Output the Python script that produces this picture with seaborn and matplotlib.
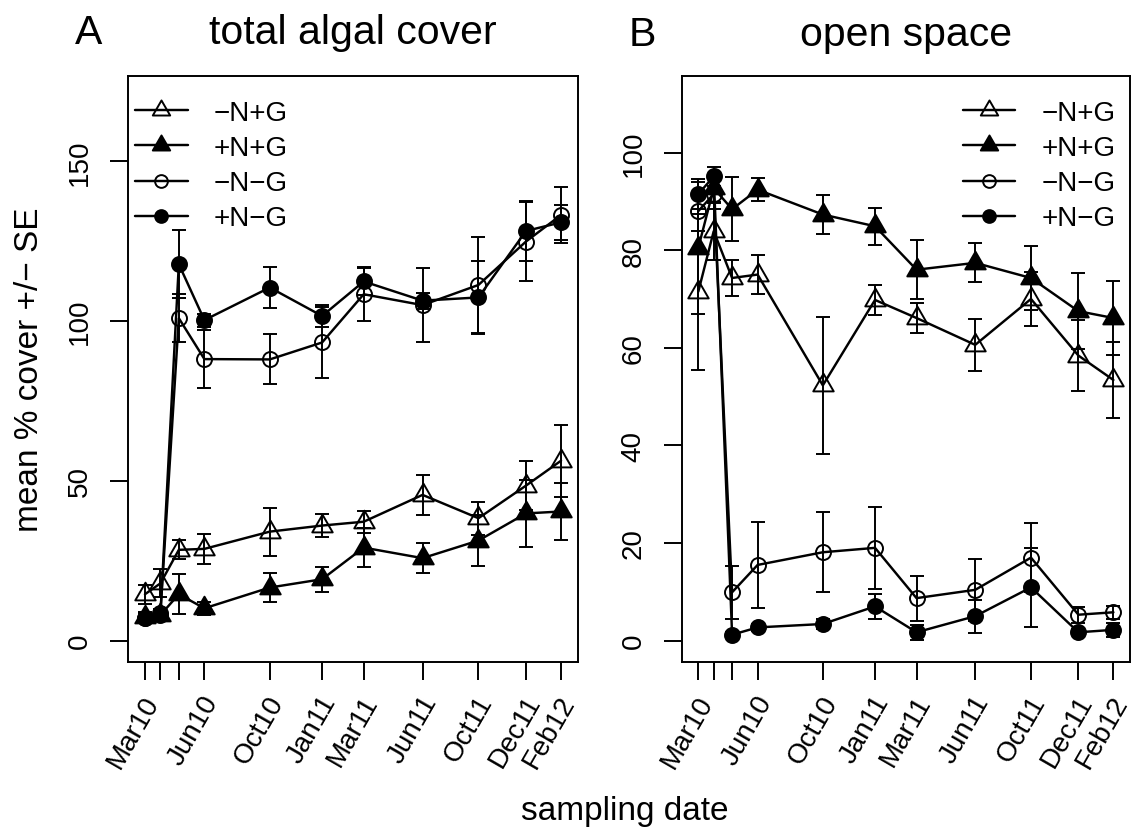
import numpy as np
import pandas as pd
import matplotlib
matplotlib.use("Agg")
import matplotlib.pyplot as plt
import matplotlib.transforms as mtransforms
from matplotlib.path import Path
import seaborn as sns

# ---------------- data ----------------
sample_day = [0, 26, 57, 100, 210, 298, 368, 467, 561, 641, 700]
tick_labels = ["Mar10", "", "", "Jun10", "Oct10", "Jan11", "Mar11", "Jun11", "Oct11", "Dec11", "Feb12"]
treatments = ["\u2212N+G", "+N+G", "\u2212N\u2212G", "+N\u2212G"]

# panel A: total algal cover (mean, SE)
algae_mNpG = [14.5, 17.9, 28.4, 28.7, 34.1, 36.0, 37.2, 45.6, 38.3, 48.5, 56.3]
algae_mNpG_se = [3.0, 4.4, 3.0, 4.6, 7.5, 3.5, 3.4, 6.3, 5.2, 7.7, 11.3]
algae_pNpG = [7.5, 8.0, 14.5, 10.1, 16.6, 19.2, 29.1, 25.8, 31.3, 39.8, 40.4]
algae_pNpG_se = [1.5, 1.5, 6.2, 2.0, 4.6, 3.9, 6.0, 4.6, 8.0, 10.5, 9.0]
algae_mNmG = [7.0, 8.5, 100.9, 88.1, 88.0, 93.3, 108.4, 105.0, 111.3, 124.9, 133.2]
algae_mNmG_se = [1.5, 1.5, 7.5, 9.0, 7.8, 11.0, 8.5, 11.5, 15.0, 12.5, 8.8]
algae_pNmG = [7.0, 8.0, 117.8, 100.3, 110.5, 101.6, 112.4, 106.4, 107.4, 128.2, 130.9]
algae_pNmG_se = [1.5, 1.5, 10.7, 2.0, 6.3, 3.3, 4.2, 2.5, 11.3, 9.5, 5.5]

# panel B: open space (mean, SE)
open_mNpG = [71.5, 83.9, 74.3, 75.0, 52.3, 69.8, 66.1, 60.6, 70.0, 58.4, 53.4]
open_mNpG_se = [16.0, 6.0, 3.7, 4.0, 14.0, 3.1, 3.0, 5.3, 5.5, 7.3, 7.7]
open_pNpG = [80.5, 92.7, 88.4, 92.4, 87.3, 84.9, 76.0, 77.4, 74.3, 67.5, 66.1]
open_pNpG_se = [13.5, 3.0, 6.5, 2.4, 4.0, 3.8, 6.1, 4.0, 6.5, 7.8, 7.6]
open_mNmG = [88.0, 91.5, 9.9, 15.5, 18.1, 19.0, 8.7, 10.4, 17.0, 5.3, 5.8]
open_mNmG_se = [4.0, 3.0, 5.4, 8.8, 8.2, 8.4, 4.6, 6.3, 7.0, 1.6, 1.3]
open_pNmG = [91.5, 95.1, 1.2, 2.7, 3.4, 7.0, 1.7, 5.0, 10.9, 1.7, 2.2]
open_pNmG_se = [3.0, 2.0, 0.5, 0.8, 1.0, 2.6, 1.5, 3.4, 8.1, 0.6, 1.5]

# ---------------- style ----------------
sns.set_style("ticks")
plt.rcParams["font.family"] = ["Liberation Sans", "DejaVu Sans"]
plt.rcParams["axes.unicode_minus"] = True
for k in ["text.color", "axes.labelcolor", "xtick.color", "ytick.color", "axes.edgecolor"]:
    plt.rcParams[k] = "black"

W, H = 1133, 837
fig = plt.figure(figsize=(W / 100, H / 100), dpi=100)

def px_axes(x0, y0, x1, y1):
    return fig.add_axes([x0 / W, 1 - y1 / H, (x1 - x0) / W, (y1 - y0) / H])

axA = px_axes(128.3, 76.7, 577.7, 663.3)
axB = px_axes(681.7, 76.7, 1130.0, 663.3)

tri = Path([(0, 1), (0.866, -0.5), (-0.866, -0.5), (0, 1)], closed=True)
styles = [
    dict(marker=tri, ms=17.0, mfc="none"),
    dict(marker=tri, ms=17.0, mfc="black"),
    dict(marker="o", ms=10.8, mfc="none"),
    dict(marker="o", ms=10.8, mfc="black"),
]

LW = 1.75
ELW = 1.4

def draw_panel(ax, series, ylim, yticks):
    for name, (mean, se), st in zip(treatments, series, styles):
        df = pd.DataFrame({"day": sample_day, "mean": mean, "se": se})
        ax.errorbar(df["day"], df["mean"], yerr=df["se"], fmt="none", ecolor="black",
                    elinewidth=ELW, capsize=4.7, capthick=ELW, zorder=2)
        sns.lineplot(data=df, x="day", y="mean", ax=ax, color="black", lw=LW,
                     marker=st["marker"], markersize=st["ms"],
                     markerfacecolor=st["mfc"], markeredgecolor="black",
                     markeredgewidth=1.4, estimator=None, sort=False,
                     label=name, zorder=3)
    ax.set_xlim(-28, 728)
    ax.set_ylim(*ylim)
    ax.set_xticks(sample_day)
    ax.set_xticklabels(tick_labels)
    ax.set_yticks(yticks)
    ax.set_yticklabels([str(v) for v in yticks])
    ax.set_xlabel("")
    ax.set_ylabel("")
    for sp in ax.spines.values():
        sp.set_visible(True)
        sp.set_color("black")
        sp.set_linewidth(1.4)
    ax.tick_params(axis="both", direction="out", length=13, width=1.4,
                   colors="black", labelsize=20, labelcolor="black")
    ax.tick_params(axis="x", pad=12)
    ax.tick_params(axis="y", pad=16.5)
    off = mtransforms.ScaledTranslation(6 / 72, 0, fig.dpi_scale_trans)
    for lab in ax.get_xticklabels():
        lab.set_rotation(60)
        lab.set_ha("right")
        lab.set_va("center")
        lab.set_rotation_mode("anchor")
        lab.set_transform(lab.get_transform() + off)
    for lab in ax.get_yticklabels():
        lab.set_rotation(90)
        lab.set_ha("center")
        lab.set_va("baseline")
        lab.set_rotation_mode("anchor")

draw_panel(axA,
           [(algae_mNpG, algae_mNpG_se), (algae_pNpG, algae_pNpG_se),
            (algae_mNmG, algae_mNmG_se), (algae_pNmG, algae_pNmG_se)],
           (-6.8, 176.8), [0, 50, 100, 150])
draw_panel(axB,
           [(open_mNpG, open_mNpG_se), (open_pNpG, open_pNpG_se),
            (open_mNmG, open_mNmG_se), (open_pNmG, open_pNmG_se)],
           (-4.45, 115.75), [0, 20, 40, 60, 80, 100])

leg_kw = dict(frameon=False, fontsize=20, borderpad=0, borderaxespad=0,
              handlelength=1.9, handletextpad=0.93, labelspacing=0.33,
              markerscale=0.85)
axA.legend(loc="upper left", bbox_to_anchor=(0.0149, 0.9586), **leg_kw)
axB.legend(loc="upper left", bbox_to_anchor=(0.6268, 0.9586), **leg_kw)

# titles and labels
fig.text(75 / W, 1 - 44.5 / H, "A", fontsize=29.5, ha="left", va="baseline")
fig.text(353 / W, 1 - 44.5 / H, "total algal cover", fontsize=29.5, ha="center", va="baseline")
fig.text(629 / W, 1 - 46 / H, "B", fontsize=29.5, ha="left", va="baseline")
fig.text(906 / W, 1 - 46 / H, "open space", fontsize=29.5, ha="center", va="baseline")
fig.text(30 / W, 1 - 370 / H, "mean % cover +/\u2212 SE", fontsize=24, rotation=90,
         ha="center", va="center")
fig.text(625 / W, 1 - 820 / H, "sampling date", fontsize=24, ha="center", va="baseline")

fig.savefig("out.png", dpi=100)
